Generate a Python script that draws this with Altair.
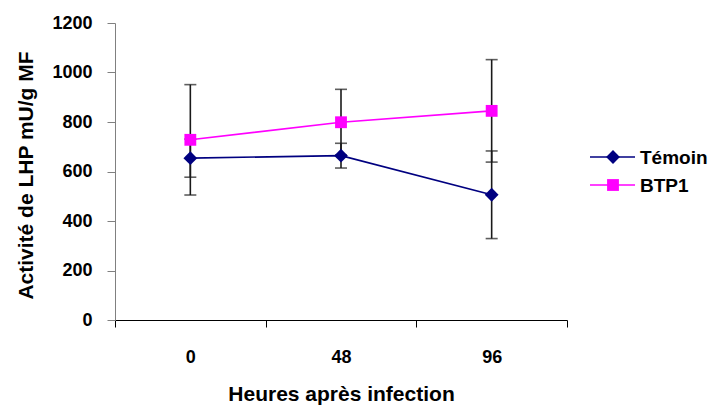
import altair as alt
import pandas as pd

# Hours after infection (categories) and LHP activity (mU/g MF) per treatment
heures = ["0", "48", "96"]
temoin = [654, 664, 506]
temoin_err = [77, 50, 177]
btp1 = [728, 799, 845]
btp1_err = [223, 133, 207]

series = ["Témoin", "BTP1"]
colors = ["#000080", "#FF00FF"]
shapes = ["diamond", "square"]
sizes = [190, 140]

rows = []
for name, vals, errs in [("Témoin", temoin, temoin_err), ("BTP1", btp1, btp1_err)]:
    for h, v, e in zip(heures, vals, errs):
        rows.append({"heure": h, "serie": name, "valeur": v,
                     "bas": v - e, "haut": v + e})
df = pd.DataFrame(rows)

FONT = "Liberation Sans"

x_enc = alt.X(
    "heure:N", sort=heures,
    scale=alt.Scale(type="band", paddingInner=0, paddingOuter=0),
    axis=alt.Axis(
        title="Heures après infection", labelAngle=0, tickBand="extent",
        domainColor="#000000", tickColor="#000000", tickSize=7,
        labelFontSize=18, labelPadding=21, labelFont=FONT, labelFontWeight="bold",
        labelColor="#000000",
        titleFontSize=21, titleFont=FONT, titleFontWeight="bold", titleColor="#000000",
        titleBaseline="alphabetic", titleY=80,
    ),
)
y_scale = alt.Scale(domain=[0, 1200], nice=False)
y_enc = alt.Y(
    "valeur:Q", scale=y_scale,
    axis=alt.Axis(
        title="Activité de LHP mU/g MF", values=list(range(0, 1201, 200)), format="d",
        grid=False, domainColor="#808080", tickColor="#808080", tickSize=8,
        labelFontSize=18, labelPadding=15, labelFont=FONT, labelFontWeight="bold",
        labelColor="#000000",
        titleFontSize=21, titleFont=FONT, titleFontWeight="bold", titleColor="#000000",
        titleX=-89, titleY=152, titleBaseline="middle",
    ),
)
color_enc = alt.Color("serie:N", scale=alt.Scale(domain=series, range=colors), legend=None)

base = alt.Chart(df)

err_rule = base.mark_rule(color="#1a1a1a", strokeWidth=1.6).encode(
    x=x_enc, y=alt.Y("bas:Q", scale=y_scale), y2="haut:Q"
)
cap_lo = base.mark_tick(color="#1a1a1a", size=12, thickness=1.6, orient="horizontal").encode(
    x=x_enc, y=alt.Y("bas:Q", scale=y_scale)
)
cap_hi = base.mark_tick(color="#1a1a1a", size=12, thickness=1.6, orient="horizontal").encode(
    x=x_enc, y=alt.Y("haut:Q", scale=y_scale)
)
lines = base.mark_line(strokeWidth=1.6).encode(
    x=x_enc, y=y_enc, color=color_enc, detail="serie:N"
)
points = base.mark_point(filled=True, opacity=1).encode(
    x=x_enc, y=y_enc, color=color_enc,
    shape=alt.Shape("serie:N", scale=alt.Scale(domain=series, range=shapes), legend=None),
    size=alt.Size("serie:N", scale=alt.Scale(domain=series, range=sizes), legend=None),
)

# Legend drawn to the right of the plot: a line segment with its marker and the series name
legend_layers = []
for i, (name, col, shp, sz) in enumerate(zip(series, colors, shapes, sizes)):
    ld = pd.DataFrame({"serie": [name]})
    ypos = 134 + 28 * i
    legend_layers.append(alt.Chart(ld).mark_rule(color=col, strokeWidth=1.6).encode(
        x=alt.value(475), x2=alt.value(520), y=alt.value(ypos)))
    legend_layers.append(alt.Chart(ld).mark_point(shape=shp, filled=True, color=col,
                                                  opacity=1, size=sz).encode(
        x=alt.value(498), y=alt.value(ypos)))
    legend_layers.append(alt.Chart(ld).mark_text(align="left", baseline="middle", font=FONT,
                                                 fontSize=19, fontWeight="bold",
                                                 color="#000000").encode(
        x=alt.value(525), y=alt.value(ypos + 1), text="serie:N"))

chart = alt.layer(err_rule, cap_lo, cap_hi, lines, points, *legend_layers).properties(
    width=452, height=297,
    autosize=alt.AutoSizeParams(type="none"),
    padding={"left": 115, "top": 23, "right": 156, "bottom": 86},
    background="#ffffff",
).configure_view(stroke=None).configure_axis(
    labelFont=FONT, labelFontWeight="bold", titleFont=FONT, titleFontWeight="bold"
)

chart.save("out.html", embed_options={"renderer": "svg", "actions": False})
